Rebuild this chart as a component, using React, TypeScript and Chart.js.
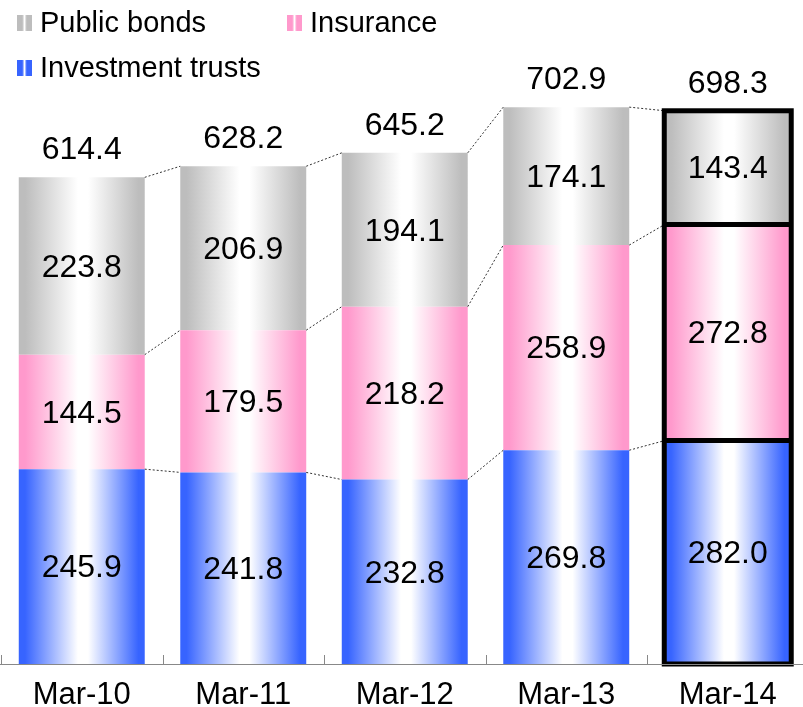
import React, { useEffect, useRef } from "react";
import { Chart, registerables } from "chart.js";

Chart.register(...registerables);

const categories = ["Mar-10", "Mar-11", "Mar-12", "Mar-13", "Mar-14"];
const investmentTrusts = [245.9, 241.8, 232.8, 269.8, 282.0];
const insurance = [144.5, 179.5, 218.2, 258.9, 272.8];
const publicBonds = [223.8, 206.9, 194.1, 174.1, 143.4];
const totals = [614.4, 628.2, 645.2, 702.9, 698.3];
const highlightIndex = 4;

const BLUE = "#3764ff";
const PINK = "#ff99cc";
const GRAY = "#bdbdbd";
const FONT = '"Liberation Sans", Arial, sans-serif';

function gradientFor(color: string) {
  return (ctx: any) => {
    const chart = ctx.chart;
    const area = chart.chartArea;
    if (!area || ctx.dataIndex === undefined || !chart.scales.x) return color;
    const cx = chart.scales.x.getPixelForValue(ctx.dataIndex);
    const w = ((area.right - area.left) / categories.length) * 0.78;
    const g = chart.ctx.createLinearGradient(cx - w / 2, 0, cx + w / 2, 0);
    g.addColorStop(0, color);
    g.addColorStop(0.05, color);
    g.addColorStop(0.47, "#ffffff");
    g.addColorStop(0.55, "#ffffff");
    g.addColorStop(0.95, color);
    g.addColorStop(1, color);
    return g;
  };
}

function legendSwatch(c: CanvasRenderingContext2D, x: number, y: number, color: string) {
  const w = 15;
  const h = 16;
  const g = c.createLinearGradient(x, 0, x + w, 0);
  g.addColorStop(0, color);
  g.addColorStop(0.35, color);
  g.addColorStop(0.5, "#ffffff");
  g.addColorStop(0.65, color);
  g.addColorStop(1, color);
  c.fillStyle = g;
  c.fillRect(x, y - h / 2, w, h);
}

const overlayPlugin = {
  id: "overlay",
  afterDatasetsDraw(chart: any) {
    const c: CanvasRenderingContext2D = chart.ctx;
    const area = chart.chartArea;
    const metas = [0, 1, 2].map((i) => chart.getDatasetMeta(i));
    const n = categories.length;
    const catW = (area.right - area.left) / n;

    // dashed connectors
    c.save();
    c.strokeStyle = "#333333";
    c.lineWidth = 1;
    c.setLineDash([2, 2]);
    for (let i = 0; i < n - 1; i++) {
      for (const m of metas) {
        const a = m.data[i];
        const b = m.data[i + 1];
        c.beginPath();
        c.moveTo(a.x + a.width / 2, a.y);
        c.lineTo(b.x - b.width / 2, b.y);
        c.stroke();
      }
    }
    c.restore();

    // highlight border on last bar
    c.save();
    c.strokeStyle = "#000000";
    c.lineWidth = 5;
    const top = metas[2].data[highlightIndex];
    const base = metas[0].data[highlightIndex].base;
    const left = top.x - top.width / 2 - 0.5;
    const right = top.x + top.width / 2 + 0.5;
    c.strokeRect(left, top.y, right - left, base - top.y);
    for (const m of [metas[0], metas[1]]) {
      const e = m.data[highlightIndex];
      c.beginPath();
      c.moveTo(left, e.y);
      c.lineTo(right, e.y);
      c.stroke();
    }
    c.restore();

    // segment labels
    c.save();
    c.fillStyle = "#000000";
    c.font = `32px ${FONT}`;
    c.textAlign = "center";
    c.textBaseline = "middle";
    const series = [investmentTrusts, insurance, publicBonds];
    metas.forEach((m, si) => {
      m.data.forEach((e: any, i: number) => {
        const yMid = (e.y + e.base) / 2;
        c.fillText(series[si][i].toFixed(1), e.x, yMid + 2);
      });
    });
    // totals
    metas[2].data.forEach((e: any, i: number) => {
      c.fillText(totals[i].toFixed(1), e.x, e.y - 27);
    });
    c.restore();

    // x axis
    c.save();
    const axisY = area.bottom + 0.5;
    c.strokeStyle = "#888888";
    c.lineWidth = 1;
    c.beginPath();
    c.moveTo(0, axisY);
    c.lineTo(chart.width, axisY);
    c.stroke();
    for (let k = 0; k <= n; k++) {
      const x = Math.round(area.left + k * catW) + 0.5;
      c.beginPath();
      c.moveTo(x, area.bottom - 9);
      c.lineTo(x, area.bottom);
      c.stroke();
    }
    c.fillStyle = "#000000";
    c.font = `31px ${FONT}`;
    c.textAlign = "center";
    c.textBaseline = "middle";
    categories.forEach((lab, i) => {
      const x = chart.scales.x.getPixelForValue(i);
      c.fillText(lab, x, area.bottom + 31);
    });
    c.restore();

    // legend
    c.save();
    c.font = `29px ${FONT}`;
    c.textAlign = "left";
    c.textBaseline = "middle";
    const items = [
      { label: "Public bonds", color: GRAY, x: 17, y: 23 },
      { label: "Insurance", color: PINK, x: 287, y: 23 },
      { label: "Investment trusts", color: BLUE, x: 17, y: 68 },
    ];
    for (const it of items) {
      legendSwatch(c, it.x, it.y, it.color);
      c.fillStyle = "#000000";
      c.fillText(it.label, it.x + 23, it.y + 1);
    }
    c.restore();
  },
};

export default function App() {
  const ref = useRef<HTMLCanvasElement | null>(null);

  useEffect(() => {
    document.body.style.margin = "0";
    document.body.style.overflow = "hidden";
    const canvas = ref.current;
    if (!canvas) return;
    const chart = new Chart(canvas, {
      type: "bar",
      data: {
        labels: categories,
        datasets: [
          {
            label: "Investment trusts",
            data: investmentTrusts,
            backgroundColor: gradientFor(BLUE),
            borderWidth: 0,
          },
          {
            label: "Insurance",
            data: insurance,
            backgroundColor: gradientFor(PINK),
            borderWidth: 0,
          },
          {
            label: "Public bonds",
            data: publicBonds,
            backgroundColor: gradientFor(GRAY),
            borderWidth: 0,
          },
        ],
      },
      options: {
        animation: false,
        responsive: false,
        maintainAspectRatio: false,
        devicePixelRatio: 1,
        layout: { padding: { left: 1, right: 1.5, top: 0, bottom: 43 } },
        datasets: { bar: { barPercentage: 0.78, categoryPercentage: 1 } },
        plugins: { legend: { display: false }, tooltip: { enabled: false } },
        scales: {
          x: { stacked: true, display: false },
          y: { stacked: true, display: false, min: 0, max: 838 },
        },
      },
      plugins: [overlayPlugin],
    });
    return () => chart.destroy();
  }, []);

  return (
    <div style={{ position: "absolute", left: 0, top: 0, width: 810, height: 707 }}>
      <canvas ref={ref} width={810} height={707} style={{ display: "block" }} />
    </div>
  );
}
